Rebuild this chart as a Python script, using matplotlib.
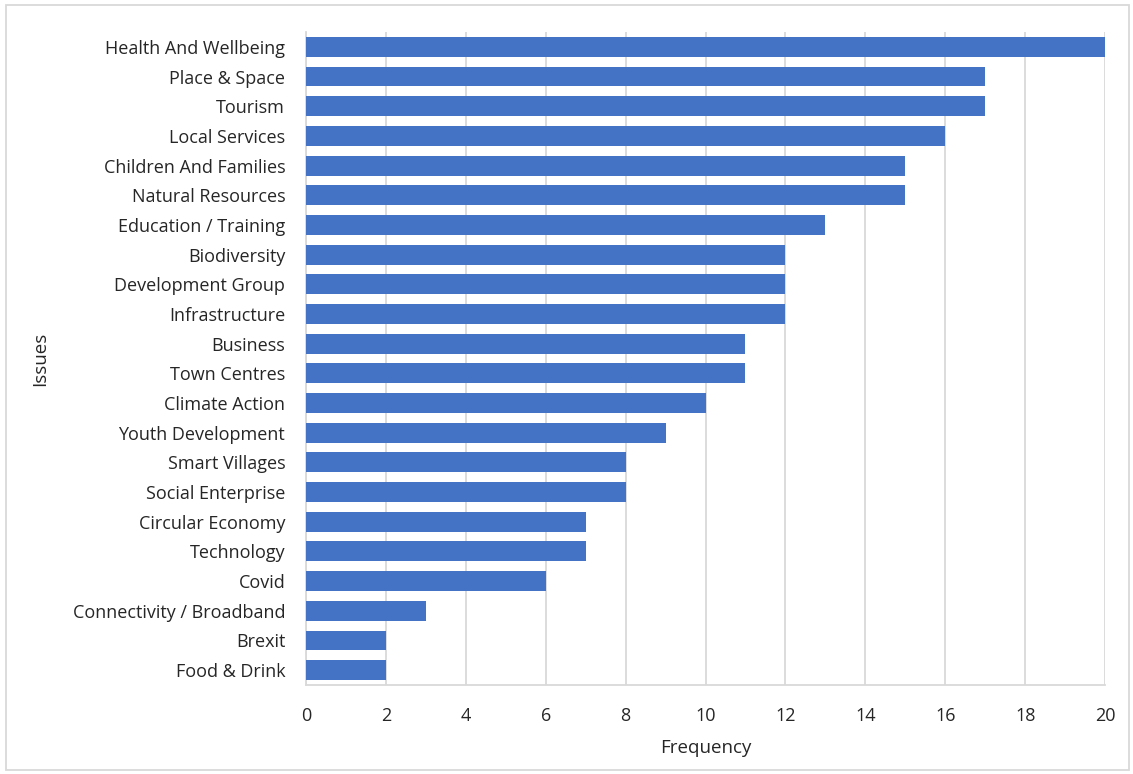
import matplotlib.pyplot as plt
from matplotlib.patches import Rectangle

# issues and how often they came up (top to bottom as in the chart)
issues = [
    "Health And Wellbeing", "Place & Space", "Tourism", "Local Services",
    "Children And Families", "Natural Resources", "Education / Training",
    "Biodiversity", "Development Group", "Infrastructure", "Business",
    "Town Centres", "Climate Action", "Youth Development", "Smart Villages",
    "Social Enterprise", "Circular Economy", "Technology", "Covid",
    "Connectivity / Broadband", "Brexit", "Food & Drink",
]
frequency = [20, 17, 17, 16, 15, 15, 13, 12, 12, 12, 11, 11, 10, 9, 8, 8, 7, 7, 6, 3, 2, 2]
x_ticks = list(range(0, 21, 2))

plt.rcParams['font.family'] = ['Open Sans', 'DejaVu Sans']

fig = plt.figure(figsize=(11.33, 7.74), dpi=100)
ax = fig.add_axes([306 / 1133, 1 - 685 / 774, (1105 - 306) / 1133, (685 - 32) / 774])

pos = list(range(len(issues)))
ax.barh(pos, frequency, height=0.67, color='#4472C4', zorder=3)
ax.set_ylim(len(issues) - 0.5, -0.5)
ax.set_xlim(0, 20)
ax.set_xticks(x_ticks)
ax.set_yticks(pos)
ax.set_yticklabels(issues, fontsize=13, color='#262626')
ax.tick_params(axis='x', labelsize=13, colors='#262626', length=0, pad=16)
ax.tick_params(axis='y', length=0, pad=15)
ax.grid(axis='x', color='#d9d9d9', linewidth=1.3, zorder=0)

for s in ['top', 'right']:
    ax.spines[s].set_visible(False)
for s in ['left', 'bottom']:
    ax.spines[s].set_color('#d9d9d9')
    ax.spines[s].set_linewidth(1.3)

ax.set_xlabel('Frequency', fontsize=13.5, color='#262626')
ax.set_ylabel('Issues', fontsize=13.5, color='#262626')
ax.xaxis.set_label_coords(0.5, -(748 - 685) / (685 - 32), transform=ax.transAxes)
ax.xaxis.label.set_va('center')
ax.yaxis.set_label_coords(-(306 - 40) / (1105 - 306), 0.5, transform=ax.transAxes)
ax.yaxis.label.set_va('center')

# light grey frame round the whole chart
fig.patches.append(Rectangle((6 / 1133, 4 / 774), 1 - 10 / 1133, 1 - 9 / 774,
                             transform=fig.transFigure, fill=False,
                             edgecolor='#d9d9d9', linewidth=1.3))

fig.savefig('out.png', dpi=100)
